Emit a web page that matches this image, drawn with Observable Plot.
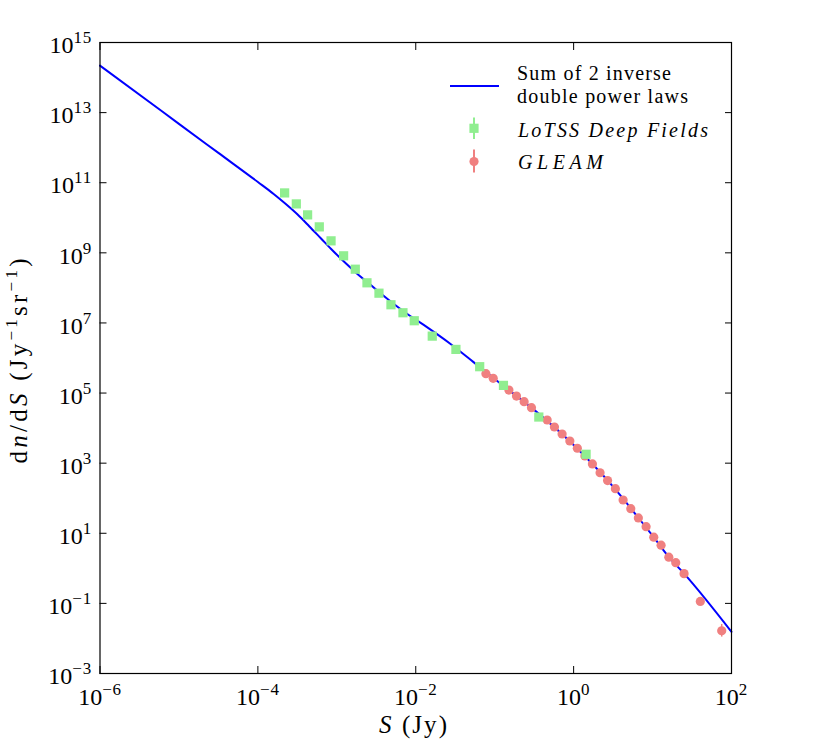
<!DOCTYPE html>
<html>
<head>
<meta charset="utf-8">
<script src="https://cdn.jsdelivr.net/npm/d3@7"></script>
<script src="https://cdn.jsdelivr.net/npm/@observablehq/plot@0.6"></script>
<style>
  html, body { margin: 0; padding: 0; background: #ffffff; }
</style>
</head>
<body>
<div id="chart"></div>
<script>
// ---- Axis ticks ----
const xTickValues = [1e-6, 1e-4, 1e-2, 1, 1e2];
const xTickExps = ["\u22126", "\u22124", "\u22122", "0", "2"];
const yTickValues = [1e-3, 1e-1, 1e1, 1e3, 1e5, 1e7, 1e9, 1e11, 1e13, 1e15];
const yTickExps = ["\u22123", "\u22121", "1", "3", "5", "7", "9", "11", "13", "15"];

// ---- Model: sum of 2 inverse double power laws (log10 S, log10 dn/dS) ----
const modelLogS = [-6.0, -5.0, -4.5, -4.0, -3.8, -3.65, -3.5, -3.35, -3.2, -3.05, -2.9, -2.75,
  -2.6, -2.365, -2.111, -1.858, -1.563, -1.268, -1.0, -0.5, 0.0, 0.5, 0.8, 1.0, 1.2, 1.4, 2.0];
const modelLogN = [14.34, 12.68, 11.85, 11.02, 10.68, 10.40, 10.10, 9.76, 9.41, 9.06, 8.73, 8.42,
  8.14, 7.70, 7.262, 6.880, 6.407, 5.883, 5.40, 4.52, 3.52, 2.33, 1.50, 0.93, 0.34, -0.15, -1.81];

// ---- LoTSS Deep Fields ----
const lotssLogS = [-3.661, -3.513, -3.370, -3.222, -3.073, -2.914, -2.766, -2.618, -2.466, -2.314, -2.162,
  -2.019, -1.791, -1.491, -1.190, -0.889, -0.441, 0.158];
const lotssLogN = [10.709, 10.396, 10.083, 9.741, 9.342, 8.915, 8.533, 8.145, 7.849, 7.519, 7.291,
  7.063, 6.624, 6.245, 5.752, 5.219, 4.316, 3.254];
const lotssErr = [0.03, 0.03, 0.03, 0.03, 0.03, 0.03, 0.03, 0.03, 0.03, 0.03, 0.03,
  0.03, 0.03, 0.04, 0.04, 0.05, 0.06, 0.08];

// ---- GLEAM ----
const gleamLogS = [-1.111, -1.019, -0.820, -0.724, -0.627, -0.534, -0.335, -0.243, -0.146, -0.048, 0.047,
  0.143, 0.238, 0.335, 0.430, 0.529, 0.627, 0.724, 0.820, 0.918, 1.015, 1.108, 1.206, 1.294, 1.399, 1.605, 1.876];
const gleamLogN = [5.553, 5.419, 5.085, 4.915, 4.755, 4.584, 4.231, 4.031, 3.832, 3.632, 3.425,
  3.205, 2.977, 2.726, 2.504, 2.271, 1.949, 1.701, 1.439, 1.188, 0.889, 0.661, 0.319, 0.162, -0.151, -0.943, -1.781];
const gleamErr = [0.02, 0.02, 0.02, 0.02, 0.02, 0.02, 0.02, 0.02, 0.02, 0.02, 0.02,
  0.02, 0.02, 0.02, 0.02, 0.02, 0.03, 0.03, 0.03, 0.03, 0.04, 0.04, 0.05, 0.05, 0.06, 0.08, 0.18];

// ---- Legend ----
const legendModelLines = ["Sum of 2 inverse", "double power laws"];
const legendLotss = "LoTSS Deep Fields";
const legendGleam = "GLEAM";

const colModel = "#0000ff";
const colLotss = "#90ee90";
const colGleam = "#f08080";
const serif = "'Liberation Serif'";

const model = modelLogS.map((s, i) => ({S: 10 ** s, N: 10 ** modelLogN[i]}));
const lotss = lotssLogS.map((s, i) => ({S: 10 ** s, N: 10 ** lotssLogN[i],
  lo: 10 ** (lotssLogN[i] - lotssErr[i]), hi: 10 ** (lotssLogN[i] + lotssErr[i])}));
const gleam = gleamLogS.map((s, i) => ({S: 10 ** s, N: 10 ** gleamLogN[i],
  lo: 10 ** (gleamLogN[i] - gleamErr[i]), hi: 10 ** (gleamLogN[i] + gleamErr[i])}));

const fmtX = d => "10^" + xTickExps[xTickValues.indexOf(d)];
const fmtY = d => "10^" + yTickExps[yTickValues.indexOf(d)];

const plot = Plot.plot({
  width: 830,
  height: 745,
  marginLeft: 99.5,
  marginRight: 99,
  marginTop: 42,
  marginBottom: 72,
  style: {fontSize: "24px", color: "black", background: "white", overflow: "visible"},
  x: {type: "log", domain: [1e-6, 1e2]},
  y: {type: "log", domain: [1e-3, 1e15]},
  marks: [
    Plot.line(model, {x: "S", y: "N", stroke: colModel, strokeWidth: 2, curve: "monotone-x"}),
    Plot.ruleX(gleam, {x: "S", y1: "lo", y2: "hi", stroke: colGleam, strokeWidth: 1.5}),
    Plot.dot(gleam, {x: "S", y: "N", r: 4.6, fill: colGleam, stroke: "none"}),
    Plot.ruleX(lotss, {x: "S", y1: "lo", y2: "hi", stroke: colLotss, strokeWidth: 1.5}),
    Plot.dot(lotss, {x: "S", y: "N", symbol: "square", r: 5.2, fill: colLotss, stroke: "none"}),
    Plot.frame({stroke: "black", strokeWidth: 1.2}),
    Plot.axisX({anchor: "bottom", ticks: xTickValues, tickSize: -7, tickPadding: 21, tickFormat: fmtX, label: null}),
    Plot.axisX({anchor: "top", ticks: xTickValues, tickSize: -7, tickFormat: () => "", label: null}),
    Plot.axisY({anchor: "left", ticks: yTickValues, tickSize: -7, tickPadding: 15, tickFormat: fmtY, label: null}),
    Plot.axisY({anchor: "right", ticks: yTickValues, tickSize: -7, tickFormat: () => "", label: null})
  ]
});

document.getElementById("chart").appendChild(plot);
const svg = d3.select(plot);

function supify(sel, baseDy) {
  sel.each(function () {
    const s = this.textContent;
    if (!s || s.indexOf("^") < 0) return;
    const [base, exp] = s.split("^");
    const t = d3.select(this);
    t.text(null);
    t.append("tspan").attr("dy", baseDy).style("font-size", "24px").text(base);
    t.append("tspan").attr("dy", -10).style("font-size", "17px").attr("letter-spacing", "0.8px").text(exp);
  });
}
supify(svg.selectAll('g[aria-label="x-axis tick label"] text'), 0);
supify(svg.selectAll('g[aria-label="y-axis tick label"] text'), 3);

// Axis titles
const xl = svg.append("text")
  .attr("x", 413).attr("y", 733)
  .attr("text-anchor", "middle").style("font-size", "25px").attr("fill", "black")
  .attr("textLength", 68).attr("lengthAdjust", "spacing");
xl.append("tspan").attr("font-style", "italic").text("S");
xl.append("tspan").text(" (Jy)");

const yl = svg.append("text")
  .attr("transform", "translate(27,361) rotate(-90)")
  .attr("text-anchor", "middle").style("font-size", "25px").attr("fill", "black")
  .attr("textLength", 205).attr("lengthAdjust", "spacing");
yl.append("tspan").text("d");
yl.append("tspan").attr("font-style", "italic").text("n");
yl.append("tspan").text("/d");
yl.append("tspan").attr("font-style", "italic").text("S");
yl.append("tspan").text(" (Jy");
yl.append("tspan").attr("dy", -10).style("font-size", "17px").text("\u22121");
yl.append("tspan").attr("dy", 10).text("sr");
yl.append("tspan").attr("dy", -10).style("font-size", "17px").text("\u22121");
yl.append("tspan").attr("dy", 10).text(")");

// Legend
const lg = svg.append("g").style("font-size", "20px").attr("fill", "black").attr("text-anchor", "start");
lg.append("line").attr("x1", 450).attr("x2", 499).attr("y1", 86).attr("y2", 86)
  .attr("stroke", colModel).attr("stroke-width", 2);
lg.append("text").attr("x", 517).attr("y", 79.5).attr("text-anchor", "start")
  .attr("textLength", 154).attr("lengthAdjust", "spacing").text(legendModelLines[0]);
lg.append("text").attr("x", 517).attr("y", 103).attr("text-anchor", "start")
  .attr("textLength", 171).attr("lengthAdjust", "spacing").text(legendModelLines[1]);

lg.append("line").attr("x1", 474).attr("x2", 474).attr("y1", 117.5).attr("y2", 139)
  .attr("stroke", colLotss).attr("stroke-width", 2);
lg.append("rect").attr("x", 469.4).attr("y", 123.7).attr("width", 9.2).attr("height", 9.2).attr("fill", colLotss);
lg.append("text").attr("x", 518).attr("y", 137).attr("font-style", "italic").attr("text-anchor", "start")
  .attr("textLength", 190).attr("lengthAdjust", "spacing").text(legendLotss);

lg.append("line").attr("x1", 474).attr("x2", 474).attr("y1", 149.5).attr("y2", 172.5)
  .attr("stroke", colGleam).attr("stroke-width", 2);
lg.append("circle").attr("cx", 474).attr("cy", 161.5).attr("r", 4.6).attr("fill", colGleam);
lg.append("text").attr("x", 518).attr("y", 169).attr("font-style", "italic").attr("text-anchor", "start")
  .attr("textLength", 85).attr("lengthAdjust", "spacing").text(legendGleam);

// Force the serif face on every text element
svg.attr("font-family", serif).style("font-family", serif);
svg.selectAll("text").style("font-family", serif);
</script>
</body>
</html>
